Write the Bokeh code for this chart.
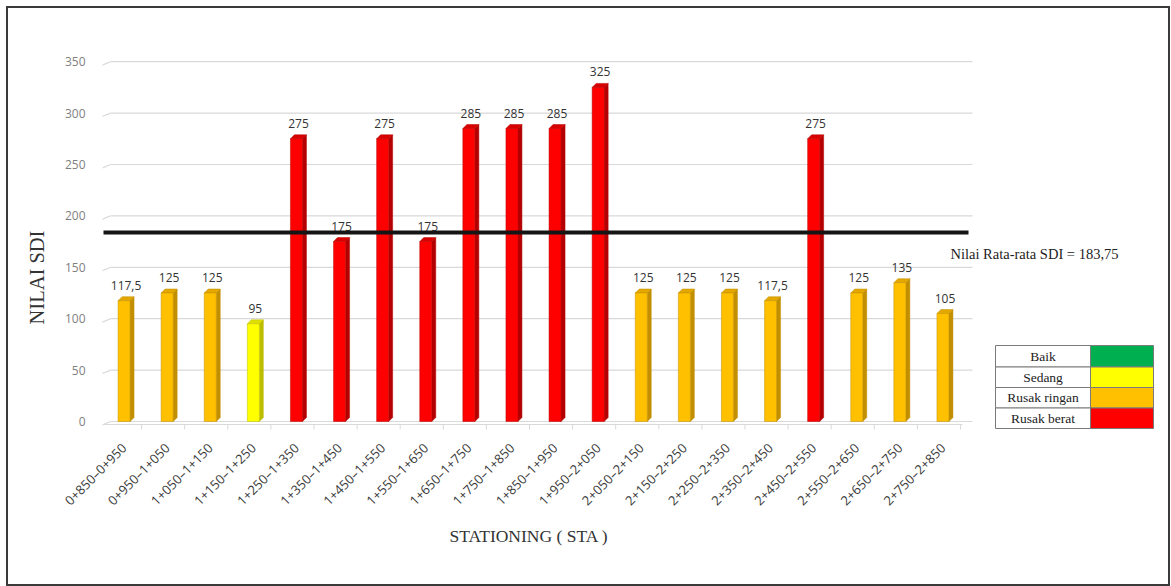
from math import pi

from bokeh.core.properties import value
from bokeh.embed import file_html
from bokeh.models import FixedTicker, Label, Range1d, Title
from bokeh.plotting import figure
from bokeh.resources import INLINE

# ---- data -------------------------------------------------------------
stations = [
    "0+850–0+950", "0+950–1+050", "1+050–1+150", "1+150–1+250",
    "1+250–1+350", "1+350–1+450", "1+450–1+550", "1+550–1+650",
    "1+650–1+750", "1+750–1+850", "1+850–1+950", "1+950–2+050",
    "2+050–2+150", "2+150–2+250", "2+250–2+350", "2+350–2+450",
    "2+450–2+550", "2+550–2+650", "2+650–2+750", "2+750–2+850",
]
sdi = [117.5, 125, 125, 95, 275, 175, 275, 175, 285, 285,
       285, 325, 125, 125, 125, 117.5, 275, 125, 135, 105]
condition = [
    "Rusak ringan", "Rusak ringan", "Rusak ringan", "Sedang",
    "Rusak berat", "Rusak berat", "Rusak berat", "Rusak berat",
    "Rusak berat", "Rusak berat", "Rusak berat", "Rusak berat",
    "Rusak ringan", "Rusak ringan", "Rusak ringan", "Rusak ringan",
    "Rusak berat", "Rusak ringan", "Rusak ringan", "Rusak ringan",
]
classes = ["Baik", "Sedang", "Rusak ringan", "Rusak berat"]
class_front = ["#00B050", "#FFFF00", "#FFC000", "#FF0000"]
class_side = ["#007A38", "#BDBD00", "#C28F00", "#B40000"]
class_top = ["#00963F", "#E0E000", "#E3A800", "#D80000"]
y_ticks = [0, 50, 100, 150, 200, 250, 300, 350]
mean_sdi = 183.75


def id_num(v):
    """Indonesian number style: decimal comma, no trailing zero."""
    s = f"{v:.2f}".rstrip("0").rstrip(".")
    return s.replace(".", ",")


# ---- page layout (pixels on the page) ---------------------------------
OFF = 8                       # margin + frame border before the canvas
W, H = 1164, 580              # canvas size
FRAME_L, FRAME_R, FRAME_T, FRAME_B = 102, 1165, 20, 435
STEP = 43.1                   # pixels per category
BASE = 421                    # page y of SDI = 0
K = 1.028                     # pixels per SDI unit


def px2x(page_x):
    return -0.5 + (page_x - FRAME_L) / STEP


def px2y(page_y):
    return (BASE - page_y) / K


p = figure(
    width=W, height=H,
    x_range=Range1d(px2x(FRAME_L), px2x(FRAME_R)),
    y_range=Range1d(px2y(FRAME_B), px2y(FRAME_T)),
    min_border_left=FRAME_L - OFF, min_border_right=OFF + W - FRAME_R,
    min_border_top=FRAME_T - OFF, min_border_bottom=OFF + H - FRAME_B,
    output_backend="svg", toolbar_location=None,
    background_fill_color="white", border_fill_color="white",
    outline_line_color=None,
)
p.styles = {"margin": "6px 0 0 6px", "border": "2px solid #3a3a3a"}
p.xgrid.visible = False
p.ygrid.visible = False

# axes
p.xaxis.ticker = FixedTicker(ticks=list(range(len(stations))))
p.xaxis.major_label_overrides = {i: s for i, s in enumerate(stations)}
p.xaxis.major_label_orientation = pi / 4
p.xaxis.axis_line_color = None
p.xaxis.major_tick_line_color = None
p.xaxis.minor_tick_line_color = None
p.xaxis.major_label_standoff = 4
p.xaxis.major_label_text_font = "Open Sans"
p.xaxis.major_label_text_font_size = "13px"
p.xaxis.major_label_text_color = "#3a3a3a"

p.yaxis.ticker = FixedTicker(ticks=y_ticks)
p.yaxis.axis_line_color = None
p.yaxis.major_tick_line_color = None
p.yaxis.minor_tick_line_color = None
p.yaxis.major_label_standoff = 11
p.yaxis.major_label_text_font = "Open Sans"
p.yaxis.major_label_text_font_size = "12px"
p.yaxis.major_label_text_color = "#7f7f7f"

# axis titles
p.add_layout(Title(
    text="NILAI SDI", align="left", offset=111, standoff=28,
    text_font="Liberation Serif", text_font_size="20.5px",
    text_font_style="normal", text_color="#333333",
), "left")
p.add_layout(Title(
    text="STATIONING ( STA )", align="left", offset=347, standoff=11,
    text_font="Liberation Serif", text_font_size="17.5px",
    text_font_style="normal", text_color="#333333",
), "below")

# back-wall gridlines with a short perspective lead-in on the left
grid_col = "#d9d9d9"
p.segment(x0=[px2x(110)] * len(y_ticks), y0=y_ticks,
          x1=[px2x(972)] * len(y_ticks), y1=y_ticks,
          line_color=grid_col, line_width=1.2)
p.segment(x0=[px2x(98)] * len(y_ticks), y0=[t - 5 / K for t in y_ticks],
          x1=[px2x(110)] * len(y_ticks), y1=y_ticks,
          line_color=grid_col, line_width=1.2)
# floor edge and category dividers
p.segment(x0=[px2x(104)], y0=[px2y(424)], x1=[px2x(962)], y1=[px2y(424)],
          line_color=grid_col, line_width=1.2)
bounds = [i - 0.5 - 4 / STEP for i in range(len(stations) + 1)]
p.segment(x0=bounds, y0=[px2y(424)] * len(bounds),
          x1=bounds, y1=[px2y(429)] * len(bounds),
          line_color=grid_col, line_width=1)

# ---- 3-D looking bars -------------------------------------------------
bw = 12 / STEP                # front face width
ddx = 4 / STEP                # depth offset, x
ddy = 4 / K                   # depth offset, y
xs = list(range(len(sdi)))
fronts = [class_front[classes.index(c)] for c in condition]
sides = [class_side[classes.index(c)] for c in condition]
tops = [class_top[classes.index(c)] for c in condition]

p.patches(
    xs=[[x + bw / 2, x + bw / 2 + ddx, x + bw / 2 + ddx, x + bw / 2] for x in xs],
    ys=[[0, ddy, v + ddy, v] for v in sdi],
    fill_color=sides, line_color=sides, line_width=0.5,
)
p.patches(
    xs=[[x - bw / 2, x - bw / 2 + ddx, x + bw / 2 + ddx, x + bw / 2] for x in xs],
    ys=[[v, v + ddy, v + ddy, v] for v in sdi],
    fill_color=tops, line_color=sides, line_width=0.5,
)
p.vbar(x=xs, width=bw, top=sdi, bottom=0,
       fill_color=fronts, line_color=sides, line_width=0.5)

p.text(x=[x + ddx / 2 for x in xs], y=[v + ddy for v in sdi],
       text=[id_num(v) for v in sdi],
       text_font=value("Open Sans"), text_font_size="12px",
       text_color="#333333", text_align="center", text_baseline="bottom",
       y_offset=-7)

# ---- mean line --------------------------------------------------------
p.line(x=[px2x(103), px2x(968)], y=[mean_sdi, mean_sdi],
       line_color="#151515", line_width=4)
p.add_layout(Label(
    x=px2x(950), y=px2y(253),
    text=f"Nilai Rata-rata SDI = {id_num(mean_sdi)}",
    text_font="Liberation Serif", text_font_size="14.5px",
    text_color="#222222", text_baseline="middle", text_align="left",
))

# ---- condition key (table: label cell | colour cell) -------------------
row_edges = [345, 366.5, 387, 407.5, 428]
key_l, key_mid, key_r = 995, 1090, 1153
p.quad(left=[px2x(key_l)] * 4, right=[px2x(key_mid)] * 4,
       top=[px2y(row_edges[i]) for i in range(4)],
       bottom=[px2y(row_edges[i + 1]) for i in range(4)],
       fill_color="white", line_color="#7a7a7a", line_width=1)
p.quad(left=[px2x(key_mid)] * 4, right=[px2x(key_r)] * 4,
       top=[px2y(row_edges[i]) for i in range(4)],
       bottom=[px2y(row_edges[i + 1]) for i in range(4)],
       fill_color=class_front, line_color="#7a7a7a", line_width=1)
p.text(x=[px2x((key_l + key_mid) / 2)] * 4,
       y=[px2y((row_edges[i] + row_edges[i + 1]) / 2) for i in range(4)],
       text=classes, text_font=value("Liberation Serif"),
       text_font_size="13.5px", text_color="#222222",
       text_align="center", text_baseline="middle")

open("out.html", "w").write(file_html(p, INLINE))
